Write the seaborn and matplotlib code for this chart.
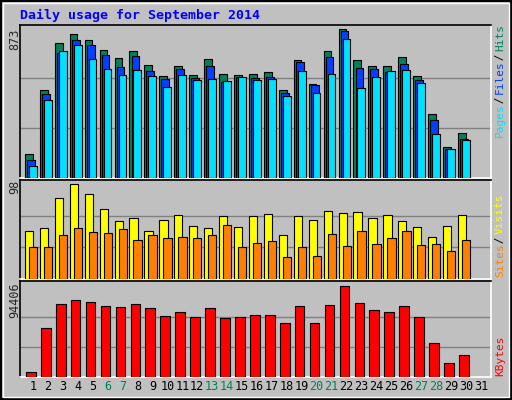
import numpy as np
import matplotlib
matplotlib.use("Agg")
import matplotlib.pyplot as plt
import seaborn as sns
from matplotlib.patches import Rectangle

days = list(range(1, 32))
hits = [138, 517, 790, 843, 808, 749, 701, 743, 660, 594, 654, 600, 695, 606, 600,
        606, 618, 512, 689, 547, 743, 873, 689, 654, 654, 707, 594, 375, 180, 263]
files = [103, 494, 731, 808, 778, 719, 648, 713, 624, 577, 636, 583, 654, 559, 589,
         583, 589, 500, 677, 541, 707, 861, 642, 636, 618, 666, 571, 340, 168, 227]
pages = [73, 458, 743, 778, 695, 636, 600, 630, 594, 535, 600, 571, 577, 565, 589,
         571, 577, 482, 624, 500, 606, 814, 529, 589, 624, 630, 553, 257, 168, 221]
visits = [49, 53, 83, 98, 88, 72, 60, 63, 49, 61, 66, 55, 52, 65, 54,
          65, 67, 45, 65, 61, 70, 68, 69, 63, 66, 60, 54, 43, 55, 66]
sites = [33, 33, 45, 52, 48, 47, 51, 40, 45, 42, 43, 42, 45, 56, 33,
         37, 39, 23, 33, 24, 46, 34, 49, 36, 42, 49, 35, 36, 29, 40]
kbytes = [5512, 50990, 75790, 79924, 77857, 73723, 72690, 75790, 71656, 63388,
          67522, 62355, 71656, 61321, 62355, 64422, 64422, 56154, 73723, 56154,
          74757, 94406, 76824, 69589, 67522, 73723, 62355, 35484, 14814, 23082]
weekend = [6, 7, 13, 14, 20, 21, 27, 28]

sns.set_theme(style="white")
plt.rcParams['font.family'] = ['DejaVu Sans Mono']

GRAY = '#C0C0C0'
fig = plt.figure(figsize=(5.12, 4.0), dpi=100, facecolor=GRAY)
W, H = 512, 400


def panel(top, bottom):
    ax = fig.add_axes([20 / W, 1 - bottom / H, 471 / W, (bottom - top) / H])
    ax.set_facecolor(GRAY)
    ax.spines['top'].set_color('black')
    ax.spines['left'].set_color('black')
    ax.spines['bottom'].set_color('white')
    ax.spines['right'].set_color('white')
    for s in ax.spines.values():
        s.set_linewidth(1.2)
    ax.set_xlim(-0.87, 30.67)
    ax.set_xticks([])
    ax.set_yticks([])
    return ax


x = np.arange(len(hits))
kw = dict(align='edge', edgecolor='black', linewidth=0.8, zorder=3)

ax1 = panel(25, 178)
top1 = max(hits)
ax1.set_ylim(0, top1 * 1.025)
for g in (top1 / 3, top1 * 2 / 3):
    ax1.axhline(g, color='#808080', lw=1, zorder=1)
ax1.bar(x - 0.54, hits, width=0.52, color='#00805C', **kw)
ax1.bar(x - 0.40, files, width=0.52, color='#0040FF', **kw)
ax1.bar(x - 0.27, pages, width=0.52, color='#00E0FF', **kw)

ax2 = panel(180, 279)
top2 = max(visits)
ax2.set_ylim(0, top2 * 1.04)
for g in (top2 / 3, top2 * 2 / 3):
    ax2.axhline(g, color='#808080', lw=1, zorder=1)
ax2.bar(x - 0.54, visits, width=0.55, color='#FFFF00', **kw)
ax2.bar(x - 0.27, sites, width=0.55, color='#FF8000', **kw)

ax3 = panel(281, 377)
top3 = max(kbytes)
ax3.set_ylim(0, top3 * 1.06)
for g in (top3 / 3, top3 * 2 / 3):
    ax3.axhline(g, color='#808080', lw=1, zorder=1)
ax3.bar(x - 0.47, kbytes, width=0.65, color='#FF0000', **kw)

for d in days:
    ax3.text(d - 1, -0.1, str(d), transform=ax3.get_xaxis_transform(),
             ha='center', va='center', fontsize=8.5,
             color='#00805C' if d in weekend else 'black')

fig.text(20 / W, 1 - 15 / H, 'Daily usage for September 2014', color='#0000FF',
         fontsize=9.5, fontweight='bold', va='center')

# left max labels
for yy, lab in [(29, '873'), (180, '98'), (282, '94406')]:
    fig.text(15 / W, 1 - yy / H, lab, rotation=90, ha='center', va='top', fontsize=8.5)


# right legends (read bottom to top)
def right_label(parts, ybottom, step=5.35):
    y = ybottom
    for txt, col in parts:
        fig.text(500 / W, 1 - y / H, txt, rotation=90, ha='center', va='bottom',
                 fontsize=8, color=col)
        y -= len(txt) * step


right_label([('Pages', '#00E0FF'), (' / ', 'black'), ('Files', '#0040FF'),
             (' / ', 'black'), ('Hits', '#00805C')], 137)
right_label([('Sites', '#FF8000'), (' / ', 'black'), ('Visits', '#FFFF00')], 277)
right_label([('KBytes', '#FF0000')], 376)

# figure border
fig.patches.append(Rectangle((1 / W, 1 / H), 510 / W, 398 / H, transform=fig.transFigure,
                             fill=False, edgecolor='black', lw=1.5))
fig.patches.append(Rectangle((3 / W, 3 / H), 506 / W, 394 / H, transform=fig.transFigure,
                             fill=False, edgecolor='white', lw=1))

fig.savefig('out.png', dpi=100, facecolor=GRAY)
